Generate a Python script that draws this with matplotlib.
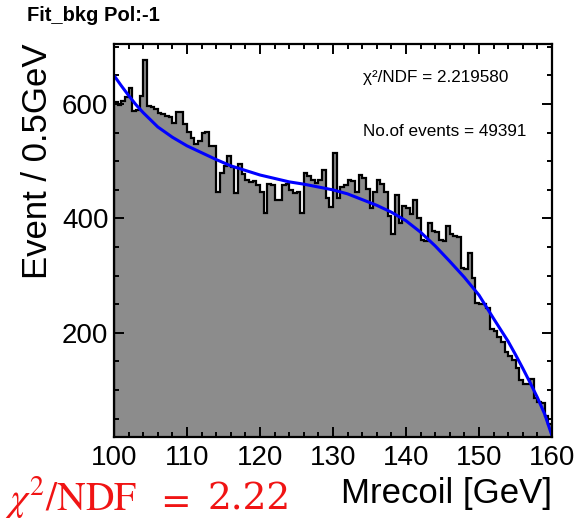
import numpy as np
import matplotlib.pyplot as plt

plt.rcParams['font.family'] = ['Liberation Sans', 'DejaVu Sans']

# histogram contents, 0.5 GeV bins from 100 to 160 GeV
counts = [603, 598, 606, 612, 628, 588, 590, 614, 677, 596,
          594, 592, 585, 582, 580, 577, 567, 587, 586, 565,
          552, 540, 531, 535, 550, 552, 526, 527, 446, 480,
          492, 510, 490, 444, 495, 478, 467, 464, 465, 458,
          446, 410, 460, 458, 432, 433, 458, 460, 450, 444,
          447, 409, 479, 475, 467, 462, 467, 485, 435, 420,
          514, 435, 455, 458, 467, 466, 446, 476, 470, 452,
          418, 447, 467, 460, 446, 405, 372, 441, 392, 421,
          418, 408, 432, 400, 362, 360, 392, 378, 376, 362,
          360, 386, 372, 369, 368, 314, 312, 340, 296, 252,
          250, 250, 244, 206, 204, 192, 184, 166, 160, 152,
          138, 118, 110, 110, 119, 86, 79, 77, 55, 40]
x_lo = 100.0
x_hi = 160.0

# fit curve, points
fit_x = [100, 101, 102, 103, 104, 106, 108, 110, 112, 114, 116, 118, 120,
         122, 124, 126, 128, 130, 132, 134, 136, 138, 140, 142, 144, 146,
         148, 150, 152, 154, 155, 156, 157, 158, 159, 160]
fit_y = [650, 632, 615, 599, 585, 560, 542, 527, 515, 503, 492, 484, 476,
         470, 464, 460, 455, 450, 443, 433, 423, 411, 396, 376, 352, 325,
         297, 266, 225, 185, 162, 138, 113, 87, 58, 20]

chi2_text = "\u03c7\u00b2/NDF = 2.219580"
nevt_text = "No.of events = 49391"
red = '#f01414'

edges = np.linspace(x_lo, x_hi, len(counts) + 1)

fig = plt.figure(figsize=(5.82, 5.25), dpi=100)
ax = fig.add_axes([114 / 582, 88 / 525, 438 / 582, 393 / 525])

ax.stairs(counts, edges, baseline=0, fill=True, color='#8c8c8c', lw=0)
ax.stairs(counts, edges, baseline=0, color='black', lw=1.6)
ax.plot(fit_x, fit_y, color='#0000ff', lw=2.2)

ax.set_xlim(x_lo, x_hi)
ax.set_ylim(18, 705)
ax.set_xticks([100, 110, 120, 130, 140, 150, 160])
ax.set_xticks(np.arange(100, 161, 2), minor=True)
ax.set_yticks([200, 400, 600])
ax.set_yticks(np.arange(50, 701, 50), minor=True)

ax.tick_params(which='both', direction='in', top=True, right=True, width=1.4)
ax.tick_params(which='major', length=7.5, labelsize=20)
ax.tick_params(which='minor', length=3.8)
ax.tick_params(axis='x', pad=6)
ax.tick_params(axis='y', pad=4)
for s in ax.spines.values():
    s.set_linewidth(1.6)

fig.text(27 / 582, 1 - 15.5 / 525, "Fit_bkg Pol:-1", fontsize=14.5,
         fontweight='bold', ha='left', va='center')
fig.text(38 / 582, 1 - 161 / 525, "Event / 0.5GeV", rotation=90,
         fontsize=25, ha='center', va='center')
fig.text(552 / 582, 1 - 493 / 525, "Mrecoil [GeV]", fontsize=25,
         ha='right', va='center')
fig.text(363 / 582, 1 - 77 / 525, chi2_text, fontsize=12.3, va='center')
fig.text(363 / 582, 1 - 132 / 525, nevt_text, fontsize=12.3, va='center')

# red annotation under the plot, in three pieces to match the spacing
fig.text(5 / 582, 1 - 510 / 525, r"$\chi^2/\mathrm{NDF}$", color=red,
         fontsize=28.5, va='baseline', math_fontfamily='stix')
fig.text(173 / 582, 1 - 510 / 525, r"$=$", color=red, fontsize=28,
         ha='center', va='baseline', math_fontfamily='stix')
fig.text(207 / 582, 1 - 510 / 525, "2.22", color=red, fontsize=27,
         va='baseline', family='DejaVu Serif')

fig.savefig("out.png", dpi=100)
